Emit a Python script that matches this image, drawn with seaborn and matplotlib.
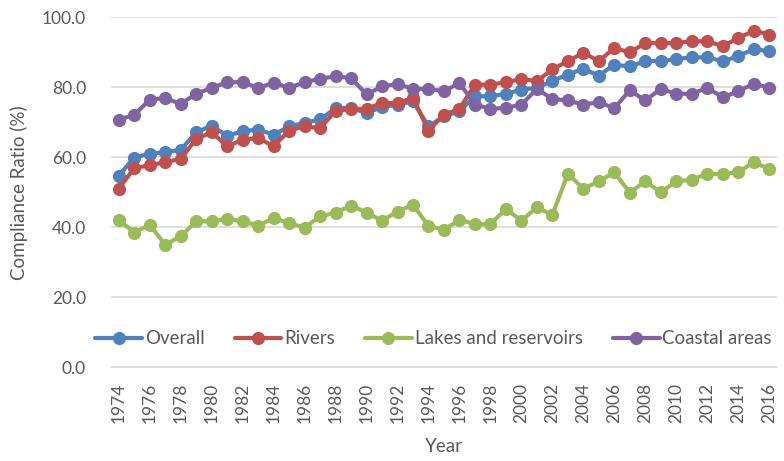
import matplotlib
matplotlib.use("Agg")
import matplotlib.pyplot as plt
import seaborn as sns
import pandas as pd

#####################################################################
# Data
#####################################################################
years = list(range(1974, 2017))

overall = [54.7, 59.9, 61.0, 61.4, 62.1, 67.1, 69.0, 66.1, 67.4, 67.9,
           66.4, 68.8, 69.8, 70.8, 74.0, 74.1, 72.6, 74.3, 75.0, 75.9,
           68.8, 71.7, 73.1, 77.4, 77.4, 78.1, 79.3, 79.8, 81.8, 83.6,
           85.2, 83.3, 86.4, 85.9, 87.4, 87.5, 88.0, 88.5, 88.5, 87.4,
           88.8, 90.9, 90.2]
rivers = [51.0, 56.9, 57.7, 58.6, 59.5, 65.2, 67.1, 63.1, 65.0, 65.5,
          63.1, 67.6, 68.8, 68.3, 73.2, 73.8, 73.8, 75.5, 75.5, 76.9,
          67.6, 72.1, 73.8, 80.7, 80.7, 81.4, 82.3, 81.7, 85.1, 87.4,
          89.8, 87.4, 91.2, 89.9, 92.6, 92.6, 92.6, 93.1, 93.1, 91.7,
          94.0, 96.1, 95.0]
lakes = [42.1, 38.5, 40.7, 35.0, 37.4, 41.7, 41.7, 42.4, 41.7, 40.5,
         42.6, 41.2, 39.9, 43.1, 44.2, 46.2, 44.2, 41.9, 44.5, 46.4,
         40.4, 39.3, 42.1, 40.9, 40.9, 45.2, 41.9, 45.7, 43.5, 55.3,
         51.0, 53.1, 55.7, 49.9, 53.1, 50.0, 53.1, 53.6, 55.2, 55.2,
         55.7, 58.6, 56.6]
coastal = [70.7, 72.1, 76.4, 76.9, 75.2, 78.1, 79.8, 81.4, 81.4, 79.8,
           81.2, 79.8, 81.4, 82.4, 83.1, 82.6, 77.9, 80.2, 80.9, 79.5,
           79.5, 78.8, 81.2, 75.0, 73.8, 74.1, 75.0, 79.5, 76.6, 76.2,
           75.0, 75.7, 74.0, 79.1, 76.2, 79.5, 78.1, 78.1, 79.8, 77.1,
           78.8, 81.0, 79.8]

series_names = ["Overall", "Rivers", "Lakes and reservoirs", "Coastal areas"]
colors = ["#4F81BD", "#C0504D", "#9BBB59", "#8064A2"]

df = pd.DataFrame({"Year": years,
                   "Overall": overall,
                   "Rivers": rivers,
                   "Lakes and reservoirs": lakes,
                   "Coastal areas": coastal})
df_long = df.melt(id_vars="Year", var_name="series", value_name="ratio")

#####################################################################
# Plot
#####################################################################
sns.set_style("white")
plt.rcParams["font.family"] = ["Lato", "DejaVu Sans"]
text_color = "#595959"

fig = plt.figure(figsize=(7.84, 4.61), dpi=100)
ax = fig.add_axes([0.1416, 0.203, 0.8494, 0.760])

sns.lineplot(data=df_long, x="Year", y="ratio", hue="series",
             hue_order=series_names, palette=colors,
             marker="o", markersize=9.5, markeredgewidth=0,
             linewidth=3, ax=ax, legend=True)

ax.set_xlim(1973.5, 2016.5)
ax.set_ylim(0, 100)
ax.set_yticks([0, 20, 40, 60, 80, 100])
ax.set_yticklabels(["{:.1f}".format(v) for v in [0, 20, 40, 60, 80, 100]])
ax.set_xticks(years[::2])
ax.set_xticklabels([str(y) for y in years[::2]], rotation=90)

ax.yaxis.grid(True, color="#D9D9D9", lw=1.2)
ax.xaxis.grid(False)
for s in ["top", "right", "left"]:
    ax.spines[s].set_visible(False)
ax.spines["bottom"].set_color("#D9D9D9")
ax.spines["bottom"].set_linewidth(1.2)

ax.tick_params(axis="both", length=0, labelsize=12.5, colors=text_color)
ax.tick_params(axis="y", pad=18)
ax.tick_params(axis="x", pad=11)

ax.set_xlabel("Year", fontsize=13.5, color=text_color, labelpad=11)
ax.set_ylabel("Compliance Ratio (%)", fontsize=13.5, color=text_color, labelpad=10)

# legend sits inside the plot, between the 0 and 20 gridlines
handles, labels = ax.get_legend_handles_labels()
ax.get_legend().remove()
fig.legend(handles, labels, loc="center", bbox_to_anchor=(0.553, 0.265),
           ncol=4, frameon=False, fontsize=13.5, labelcolor=text_color,
           handlelength=2.5, handletextpad=0.15, columnspacing=1.6,
           borderaxespad=0)

fig.savefig("out.png", dpi=100)
plt.close()
